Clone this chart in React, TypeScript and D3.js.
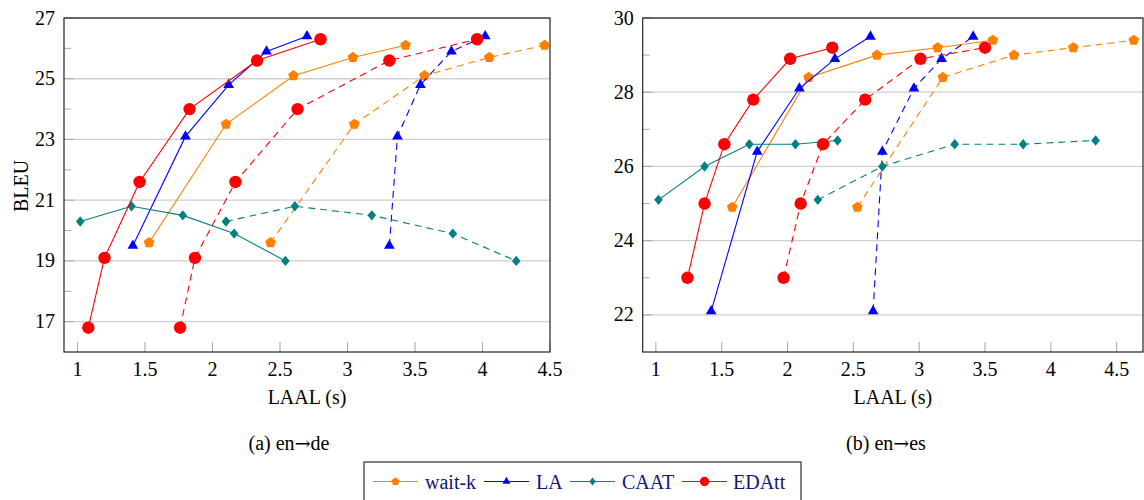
import React from "react";
import * as d3 from "d3";

// tick values
const xTicks = [1, 1.5, 2, 2.5, 3, 3.5, 4, 4.5];
const deYMajor = [17, 19, 21, 23, 25, 27];
const deYMinor = [18, 20, 22, 24, 26];
const esYMajor = [22, 24, 26, 28, 30];
const esYMinor = [23, 25, 27, 29];

// en->de (LAAL, BLEU); dashed = computation-aware
const deWaitkY = [19.6, 23.5, 25.1, 25.7, 26.1];
const deWaitkX = [1.53, 2.1, 2.6, 3.04, 3.43];
const deWaitkDashX = [2.43, 3.05, 3.57, 4.05, 4.46];
const deLaY = [19.5, 23.1, 24.8, 25.9, 26.4];
const deLaX = [1.41, 1.8, 2.12, 2.4, 2.7];
const deLaDashX = [3.31, 3.37, 3.54, 3.77, 4.02];
const deCaatY = [20.3, 20.8, 20.5, 19.9, 19.0];
const deCaatX = [1.02, 1.4, 1.78, 2.16, 2.54];
const deCaatDashX = [2.1, 2.61, 3.18, 3.78, 4.25];
const deEdattY = [16.8, 19.1, 21.6, 24.0, 25.6, 26.3];
const deEdattX = [1.08, 1.2, 1.46, 1.83, 2.33, 2.8];
const deEdattDashX = [1.76, 1.87, 2.17, 2.63, 3.31, 3.96];

// en->es
const esWaitkY = [24.9, 28.4, 29.0, 29.2, 29.4];
const esWaitkX = [1.58, 2.16, 2.68, 3.14, 3.56];
const esWaitkDashX = [2.53, 3.18, 3.72, 4.17, 4.63];
const esLaY = [22.1, 26.4, 28.1, 28.9, 29.5];
const esLaX = [1.42, 1.77, 2.09, 2.36, 2.63];
const esLaDashX = [2.65, 2.72, 2.96, 3.17, 3.41];
const esCaatY = [25.1, 26.0, 26.6, 26.6, 26.7];
const esCaatX = [1.02, 1.37, 1.71, 2.06, 2.38];
const esCaatDashX = [2.23, 2.72, 3.27, 3.79, 4.34];
const esEdattY = [23.0, 25.0, 26.6, 27.8, 28.9, 29.2];
const esEdattX = [1.24, 1.37, 1.52, 1.74, 2.02, 2.34];
const esEdattDashX = [1.97, 2.1, 2.27, 2.59, 3.01, 3.5];

const methods = ["wait-k", "LA", "CAAT", "EDAtt"];
const colors = ["#ff8000", "#0000ff", "#008080", "#ff0000"];
const markers = ["pentagon", "triangle", "diamond", "circle"];

const serif = "'Liberation Serif', 'Times New Roman', serif";

function markerPath(type, s = 1) {
  if (type === "pentagon") {
    const r = 5.6 * s;
    const pts = d3.range(5).map((k) => {
      const a = -Math.PI / 2 + (k * 2 * Math.PI) / 5;
      return [r * Math.cos(a), r * Math.sin(a)];
    });
    return "M" + pts.map((p) => p.join(",")).join("L") + "Z";
  }
  if (type === "triangle") {
    const r = 6.2 * s;
    return `M0,${-r}L${r * 0.866},${r / 2}L${-r * 0.866},${r / 2}Z`;
  }
  if (type === "diamond") {
    const w = 4.3 * s, h = 5.2 * s;
    return `M0,${-h}L${w},0L0,${h}L${-w},0Z`;
  }
  return d3.symbol(d3.symbolCircle, Math.PI * (6.2 * s) ** 2)();
}

function buildSeries(sets) {
  const out = [];
  sets.forEach(([xs, xd, ys], i) => {
    out.push({ m: i, xs, ys, dashed: false });
    out.push({ m: i, xs: xd, ys, dashed: true });
  });
  return out;
}

const panels = [
  {
    left: 64, right: 550, xDomain: [0.9, 4.5], yDomain: [16, 27],
    yMajor: deYMajor, yMinor: deYMinor, capA: "(a) en", capB: "de", capX: 289,
    series: buildSeries([
      [deWaitkX, deWaitkDashX, deWaitkY],
      [deLaX, deLaDashX, deLaY],
      [deCaatX, deCaatDashX, deCaatY],
      [deEdattX, deEdattDashX, deEdattY],
    ]),
  },
  {
    left: 642.7, right: 1143, xDomain: [0.9, 4.7], yDomain: [21, 30],
    yMajor: esYMajor, yMinor: esYMinor, capA: "(b) en", capB: "es", capX: 886,
    series: buildSeries([
      [esWaitkX, esWaitkDashX, esWaitkY],
      [esLaX, esLaDashX, esLaY],
      [esCaatX, esCaatDashX, esCaatY],
      [esEdattX, esEdattDashX, esEdattY],
    ]),
  },
];

const top = 18;
const bottom = 352;

function Panel({ p, showYLabel }) {
  const x = d3.scaleLinear().domain(p.xDomain).range([p.left, p.right]);
  const y = d3.scaleLinear().domain(p.yDomain).range([bottom, top]);
  const line = d3.line().x((d) => x(d[0])).y((d) => y(d[1]));
  return (
    <g>
      {p.yMajor.map((v) => (
        <line key={"g" + v} x1={p.left} x2={p.right} y1={y(v)} y2={y(v)} stroke="#cfcfcf" strokeWidth={1.3} />
      ))}
      {p.yMajor.map((v) => (
        <line key={"t" + v} x1={p.left} x2={p.left + 10} y1={y(v)} y2={y(v)} stroke="#aaa" strokeWidth={1.1} />
      ))}
      {p.yMinor.map((v) => (
        <line key={"m" + v} x1={p.left} x2={p.left + 7} y1={y(v)} y2={y(v)} stroke="#aaa" strokeWidth={1} />
      ))}
      {xTicks.map((v) => (
        <line key={"x" + v} x1={x(v)} x2={x(v)} y1={bottom} y2={bottom - 10} stroke="#aaa" strokeWidth={1.1} />
      ))}
      <rect x={p.left} y={top} width={p.right - p.left} height={bottom - top} fill="none" stroke="#222" strokeWidth={1.2} />
      {p.yMajor.map((v) => (
        <text key={"l" + v} x={p.left - 9} y={y(v) + 6.5} textAnchor="end" fontFamily={serif} fontSize={20}>{v}</text>
      ))}
      {xTicks.map((v) => (
        <text key={"xl" + v} x={x(v)} y={376} textAnchor="middle" fontFamily={serif} fontSize={20}>{v}</text>
      ))}
      <text x={(p.left + p.right) / 2} y={404} textAnchor="middle" fontFamily={serif} fontSize={20}>LAAL (s)</text>
      <text x={p.capX} y={450} textAnchor="middle" fontFamily={serif} fontSize={20}>
        {p.capA}
        <tspan fontFamily="'DejaVu Serif', serif" fontSize={19}>{"\u2192"}</tspan>
        {p.capB}
      </text>
      {showYLabel && (
        <text transform={`translate(28,186) rotate(-90)`} textAnchor="middle" fontFamily={serif} fontSize={20}>BLEU</text>
      )}
      {p.series.map((s, i) => {
        const pts = s.xs.map((v, j) => [v, s.ys[j]]);
        return (
          <g key={i}>
            <path d={line(pts)} fill="none" stroke={colors[s.m]} strokeWidth={1.1} strokeDasharray={s.dashed ? "7,5" : null} />
            {pts.map((d, j) => (
              <path key={j} d={markerPath(markers[s.m])} transform={`translate(${x(d[0])},${y(d[1])})`} fill={colors[s.m]} />
            ))}
          </g>
        );
      })}
    </g>
  );
}

function Legend() {
  const items = [
    { x0: 373, tx: 425 },
    { x0: 484, tx: 536 },
    { x0: 570, tx: 622 },
    { x0: 682, tx: 733 },
  ];
  const cy = 481.5;
  return (
    <g>
      <rect x={364} y={462} width={437} height={60} fill="white" stroke="#555" strokeWidth={1.5} />
      {items.map((it, i) => (
        <g key={methods[i]}>
          <line x1={it.x0} x2={it.x0 + 45} y1={cy} y2={cy} stroke={colors[i]} strokeWidth={1.1} />
          <path d={markerPath(markers[i], 0.75)} transform={`translate(${it.x0 + 22.5},${cy})`} fill={colors[i]} />
          <text x={it.tx} y={cy + 7} fontFamily={serif} fontSize={20} fill="#14147a">{methods[i]}</text>
        </g>
      ))}
    </g>
  );
}

export default function App() {
  return (
    <svg width={1144} height={500} style={{ position: "absolute", left: 0, top: 0, background: "white" }}>
      {panels.map((p, i) => (
        <Panel key={i} p={p} showYLabel={i === 0} />
      ))}
      <Legend />
    </svg>
  );
}
